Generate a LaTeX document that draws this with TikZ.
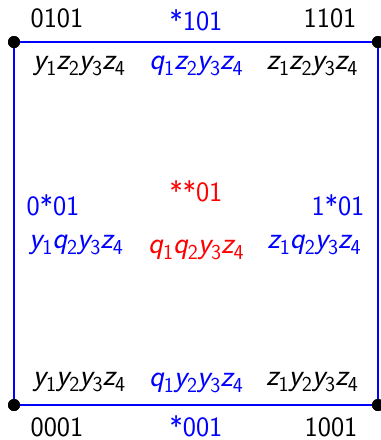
\documentclass[tikz,border=0pt]{standalone}
\begin{document}
\newcommand{\vx}[2]{{\itshape #1}\raisebox{-0.22em}{\fontsize{16}{16}\selectfont #2}}
\begin{tikzpicture}[x=0.75pt,y=-0.75pt,
  every node/.style={font=\fontsize{21}{25}\selectfont\sffamily, inner sep=0pt},
  word/.style={font=\fontsize{23}{27}\selectfont\sffamily},
  vertex/.style={circle, fill=black, minimum size=9pt},
  edgeline/.style={blue, line width=1.9pt},
  face/.style={red}]
\useasboundingbox (0,0) rectangle (380,440);
% corner vertices
\node[vertex] (v0101) at (14,42) {};
\node[vertex] (v1101) at (378,42) {};
\node[vertex] (v0001) at (14,405) {};
\node[vertex] (v1001) at (378,405) {};
% edges of the square
\draw[edgeline] (v0101.center) -- (v1101.center) -- (v1001.center) -- (v0001.center) -- cycle;
\node[vertex] at (v0101) {};
\node[vertex] at (v1101) {};
\node[vertex] at (v0001) {};
\node[vertex] at (v1001) {};
% top row
\node (l0101) at (57,18) {0101};
\node[blue] (l101) at (196,20) {*101};
\node (l1101) at (330,18) {1101};
\node[word] (m0101) at (79,66) {\vx{y}{1}\vx{z}{2}\vx{y}{3}\vx{z}{4}};
\node[word,blue] (m101) at (196,66) {\vx{q}{1}\vx{z}{2}\vx{y}{3}\vx{z}{4}};
\node[word] (m1101) at (312,66) {\vx{z}{1}\vx{z}{2}\vx{y}{3}\vx{z}{4}};
% middle row
\node[blue] (l001a) at (53,205) {0*01};
\node[face] (lface) at (196,191) {**01};
\node[blue] (l1a01) at (338,205) {1*01};
\node[word,blue] (m001a) at (76,245) {\vx{y}{1}\vx{q}{2}\vx{y}{3}\vx{z}{4}};
\node[word,face] (mface) at (196,250) {\vx{q}{1}\vx{q}{2}\vx{y}{3}\vx{z}{4}};
\node[word,blue] (m1a01) at (314,245) {\vx{z}{1}\vx{q}{2}\vx{y}{3}\vx{z}{4}};
% bottom row
\node[word] (m0001) at (79,382) {\vx{y}{1}\vx{y}{2}\vx{y}{3}\vx{z}{4}};
\node[word,blue] (m001) at (196,383) {\vx{q}{1}\vx{y}{2}\vx{y}{3}\vx{z}{4}};
\node[word] (m1001) at (312,382) {\vx{z}{1}\vx{y}{2}\vx{y}{3}\vx{z}{4}};
\node (l0001) at (57,427) {0001};
\node[blue] (l001) at (196,426) {*001};
\node (l1001) at (331,427) {1001};
\end{tikzpicture}
\end{document}
